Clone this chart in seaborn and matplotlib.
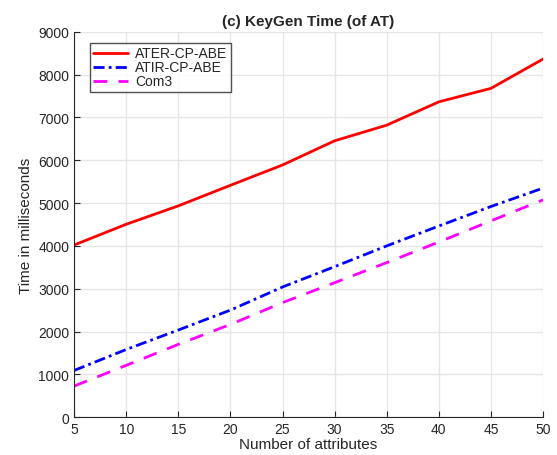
import matplotlib
matplotlib.use('Agg')
import matplotlib.pyplot as plt
import numpy as np
import pandas as pd
import seaborn as sns

attributes = [5, 10, 15, 20, 25, 30, 35, 40, 45, 50]
ater_cp_abe = [4020, 4505, 4935, 5415, 5890, 6455, 6820, 7365, 7680, 8365]
atir_cp_abe = [1090, 1580, 2035, 2500, 3040, 3515, 4000, 4465, 4920, 5350]
com3 = [725, 1210, 1700, 2165, 2675, 3140, 3610, 4090, 4585, 5075]

series_names = ['ATER-CP-ABE', 'ATIR-CP-ABE', 'Com3']
colors = ['#ff0000', '#0000ff', '#ff00ff']
dashes = ['', (4, 1.5, 1, 1.5), (5, 4)]

sns.set_style('whitegrid', {'grid.color': '#e6e6e6', 'axes.edgecolor': '#262626'})
plt.rcParams['font.family'] = ['Liberation Sans', 'DejaVu Sans']

df = pd.DataFrame({'x': attributes * 3,
                   'y': ater_cp_abe + atir_cp_abe + com3,
                   'series': np.repeat(series_names, len(attributes))})

fig = plt.figure(figsize=(5.57, 4.56), dpi=100)
ax = fig.add_axes([0.133, 0.083, 0.842, 0.845])
sns.lineplot(data=df, x='x', y='y', hue='series', style='series',
             palette=colors, dashes=dashes, linewidth=2, ax=ax)

ax.set_xlim(5, 50)
ax.set_ylim(0, 9000)
ax.set_xticks(range(5, 51, 5))
ax.set_yticks(range(0, 9001, 1000))
ax.tick_params(direction='in', length=4, labelsize=10, colors='#262626', left=True, bottom=True)
ax.set_xlabel('Number of attributes', fontsize=11, labelpad=1)
ax.set_ylabel('Time in milliseconds', fontsize=11)
ax.set_title('(c) KeyGen Time (of AT)', fontsize=11, fontweight='bold', pad=5)
for s in ['top', 'right']:
    ax.spines[s].set_visible(False)
ax.grid(True, linewidth=1)

leg = ax.legend(loc='upper left', bbox_to_anchor=(0.034, 0.971), fontsize=10,
                frameon=True, fancybox=False, handlelength=2.5, handletextpad=0.5,
                borderpad=0.25, labelspacing=0.0, borderaxespad=0)
leg.get_frame().set_edgecolor('#262626')
leg.get_frame().set_linewidth(1)

plt.savefig('out.png', dpi=100)
